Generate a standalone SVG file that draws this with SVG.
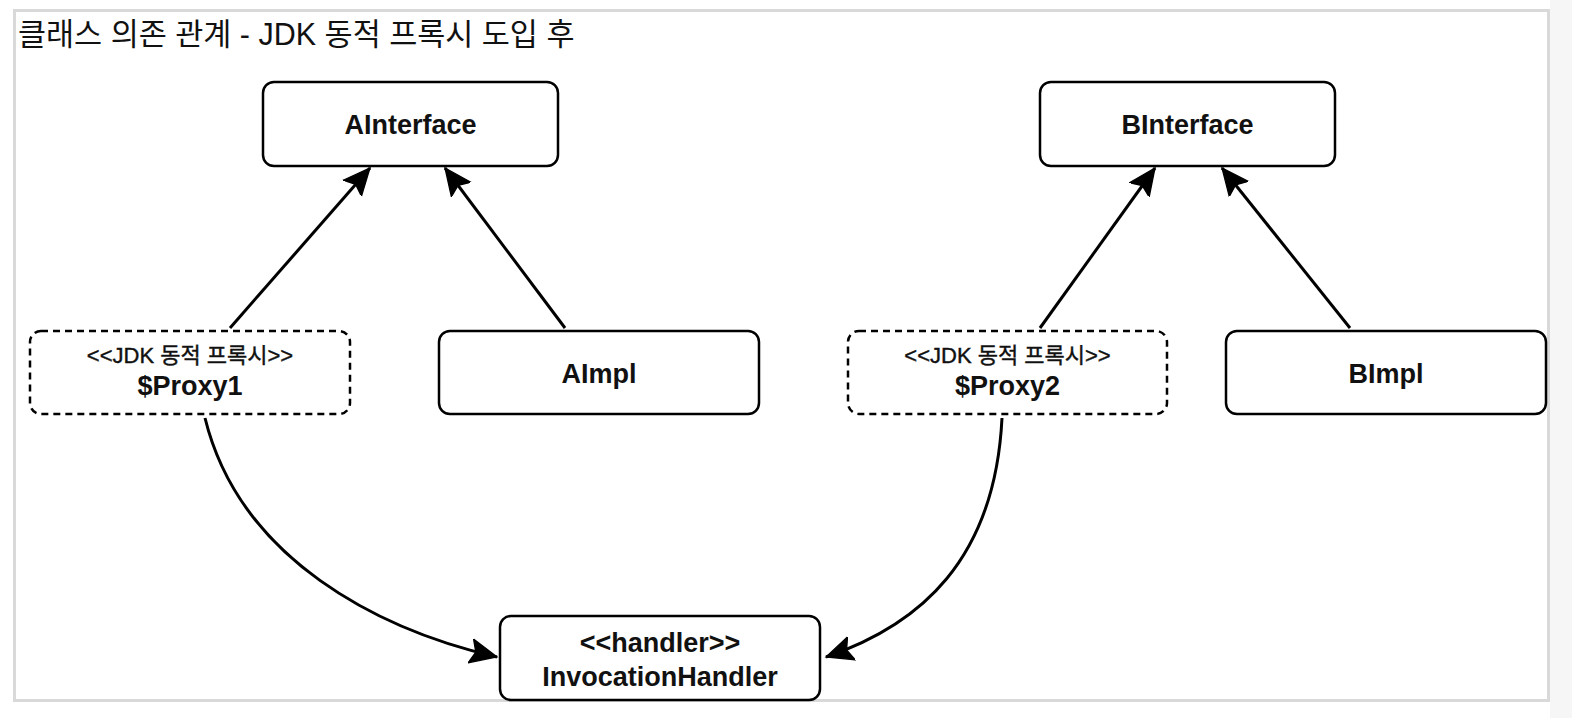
<svg xmlns="http://www.w3.org/2000/svg" width="1572" height="718" viewBox="0 0 1572 718">
<defs>
<style>
.box{fill:#ffffff;stroke:#000000;stroke-width:2.5}
.dash{fill:#ffffff;stroke:#000000;stroke-width:2.5;stroke-dasharray:7 5}
.lbl{font-family:"Liberation Sans","Noto Sans CJK KR",sans-serif;font-weight:bold;font-size:27px;fill:#111;text-anchor:middle}
.stereo{font-family:"Liberation Sans","Noto Sans CJK KR",sans-serif;font-size:22px;fill:#111;text-anchor:middle;stroke:#111;stroke-width:0.4}
.title{font-family:"Liberation Sans","Noto Sans CJK KR",sans-serif;font-size:30.5px;fill:#111}
.edge{fill:none;stroke:#000;stroke-width:3}
</style>
<marker id="arr" markerUnits="userSpaceOnUse" markerWidth="32" markerHeight="32" refX="21" refY="10.5" orient="auto" viewBox="0 0 25 21">
<path d="M0,1 L21,10.5 L0,20 L4,10.5 Z" fill="#000" stroke="#000" stroke-width="1"/>
</marker>
</defs>
<rect x="0" y="0" width="1572" height="718" fill="#ffffff"/>
<rect x="1550" y="0" width="22" height="718" fill="#f6f6f6"/>
<rect x="14.5" y="10.5" width="1534" height="690" fill="#ffffff" stroke="#d9d9d9" stroke-width="3"/>
<text class="title" x="18" y="45">클래스 의존 관계 - JDK 동적 프록시 도입 후</text>
<g id="edges">
<path class="edge" d="M230,328 L370,168" marker-end="url(#arr)"/>
<path class="edge" d="M565,328 L445,168" marker-end="url(#arr)"/>
<path class="edge" d="M1040,328 L1155,168" marker-end="url(#arr)"/>
<path class="edge" d="M1350,328 L1222,168" marker-end="url(#arr)"/>
<path class="edge" d="M205,418 C240,560 380,630 497,657" marker-end="url(#arr)"/>
<path class="edge" d="M1002,418 C995,560 920,625 826,657" marker-end="url(#arr)"/>
</g>
<g id="AInterface">
<rect class="box" x="263" y="82" width="295" height="84" rx="11"/>
<text class="lbl" x="410.5" y="134">AInterface</text>
</g>
<g id="BInterface">
<rect class="box" x="1040" y="82" width="295" height="84" rx="11"/>
<text class="lbl" x="1187.5" y="134">BInterface</text>
</g>
<g id="Proxy1">
<rect class="dash" x="30" y="331" width="320" height="83" rx="11"/>
<text class="stereo" x="190" y="363">&lt;&lt;JDK 동적 프록시&gt;&gt;</text>
<text class="lbl" x="190" y="395">$Proxy1</text>
</g>
<g id="AImpl">
<rect class="box" x="439" y="331" width="320" height="83" rx="11"/>
<text class="lbl" x="599" y="383">AImpl</text>
</g>
<g id="Proxy2">
<rect class="dash" x="848" y="331" width="319" height="83" rx="11"/>
<text class="stereo" x="1007.5" y="363">&lt;&lt;JDK 동적 프록시&gt;&gt;</text>
<text class="lbl" x="1007.5" y="395">$Proxy2</text>
</g>
<g id="BImpl">
<rect class="box" x="1226" y="331" width="320" height="83" rx="11"/>
<text class="lbl" x="1386" y="383">BImpl</text>
</g>
<g id="InvocationHandler">
<rect class="box" x="500" y="616" width="320" height="84" rx="11"/>
<text class="lbl" x="660" y="652">&lt;&lt;handler&gt;&gt;</text>
<text class="lbl" x="660" y="686">InvocationHandler</text>
</g>
</svg>
